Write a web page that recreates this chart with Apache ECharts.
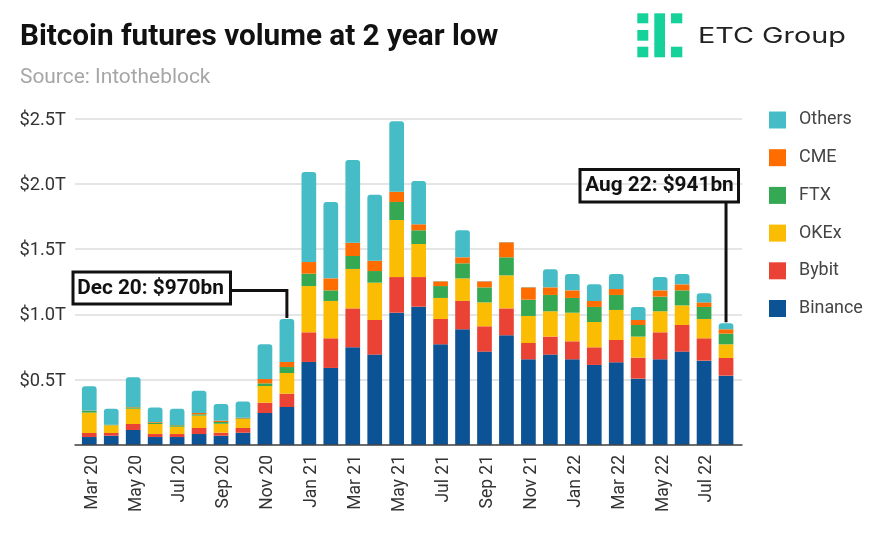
<!DOCTYPE html>
<html><head><meta charset="utf-8">
<style>html,body{margin:0;padding:0;background:#fff}#c{width:882px;height:540px}</style>
<script src="https://cdn.jsdelivr.net/npm/echarts@6/dist/echarts.min.js"></script>
</head><body><div id="c"></div>
<script>
const months = ['Mar 20','Apr 20','May 20','Jun 20','Jul 20','Aug 20','Sep 20','Oct 20','Nov 20','Dec 20','Jan 21','Feb 21','Mar 21','Apr 21','May 21','Jun 21','Jul 21','Aug 21','Sep 21','Oct 21','Nov 21','Dec 21','Jan 22','Feb 22','Mar 22','Apr 22','May 22','Jun 22','Jul 22','Aug 22'];
const binance = [.061,.071,.115,.061,.061,.084,.071,.094,.245,.291,.636,.590,.748,.692,1.013,1.059,.771,.886,.715,.840,.656,.692,.656,.613,.633,.508,.656,.715,.646,.531];
const bybit   = [.031,.021,.046,.023,.023,.046,.023,.036,.079,.102,.227,.227,.298,.265,.273,.227,.194,.217,.194,.206,.125,.138,.138,.135,.171,.161,.207,.204,.171,.135];
const okex    = [.156,.059,.117,.077,.056,.095,.069,.069,.128,.158,.354,.286,.302,.286,.437,.253,.161,.173,.183,.253,.207,.194,.219,.194,.230,.161,.161,.150,.148,.105];
const ftx     = [.015,.002,.010,.010,.011,.010,.013,.005,.020,.046,.095,.081,.099,.089,.138,.105,.091,.115,.115,.138,.125,.125,.113,.115,.115,.089,.112,.115,.092,.082];
const cme     = [.002,.003,.003,.005,.002,.010,.010,.005,.033,.039,.089,.092,.102,.079,.079,.046,.036,.046,.046,.115,.094,.058,.058,.046,.045,.038,.048,.046,.035,.033];
const others  = [.184,.122,.227,.112,.125,.171,.128,.125,.266,.329,.689,.585,.633,.506,.538,.331,.003,.207,.003,.002,.003,.138,.125,.127,.115,.100,.102,.079,.069,.046];
const yTicks = [0,.5,1,1.5,2,2.5];
const colors = {Binance:'#0b5394',Bybit:'#ea4335',OKEx:'#fbbc04',FTX:'#34a853',CME:'#ff6d01',Others:'#46bdc6'};
const seriesData = {Binance:binance,Bybit:bybit,OKEx:okex,FTX:ftx,CME:cme,Others:others};
const noteDec = 'Dec 20: $970bn', noteAug = 'Aug 22: $941bn';
const F='Roboto';
const chart = echarts.init(document.getElementById('c'),null,{renderer:'canvas'});
const yBase={type:'value',min:0,max:2.5,interval:.5};
chart.setOption({
  backgroundColor:'#fff',animation:false,
  title:[
    {text:'Bitcoin futures volume at 2 year low',left:15,top:18,textStyle:{fontFamily:F,fontWeight:700,fontSize:29.7,color:'#111'}},
    {text:'Source: Intotheblock',left:15,top:62,textStyle:{fontFamily:F,fontWeight:400,fontSize:20.9,color:'#a6a6a6'}}
  ],
  legend:{orient:'vertical',left:764,top:106,itemWidth:17,itemHeight:17,itemGap:19.7,icon:'rect',
    data:['Others','CME','FTX','OKEx','Bybit','Binance'],
    textStyle:{fontFamily:F,fontSize:17.9,color:'#444',padding:[3,0,0,8]},itemStyle:{borderWidth:0,borderRadius:2}},
  grid:[{left:75,width:667,top:118.5,height:326.5},{left:78.3,width:658.7,top:118.5,height:326.5}],
  xAxis:[
    {type:'category',gridIndex:0,data:[''],axisLine:{show:true,lineStyle:{color:'#444',width:1.5}},axisTick:{show:false},axisLabel:{show:false},z:5},
    {type:'category',gridIndex:1,data:months,axisLine:{show:false},axisTick:{show:false},
     axisLabel:{interval:1,rotate:90,fontFamily:F,fontSize:17.5,color:'#333',margin:10,verticalAlign:'top',lineHeight:6}}
  ],
  yAxis:[
    {...yBase,gridIndex:0,axisLine:{show:false},axisTick:{show:false},
     splitLine:{lineStyle:{color:'#dcdcdc',width:1.5}},
     axisLabel:{fontFamily:F,fontSize:18.3,color:'#333',margin:9,verticalAlign:'top',lineHeight:3,
       formatter:v=>yTicks.includes(v)&&v>0?'$'+v.toFixed(1)+'T':''}},
    {...yBase,gridIndex:1,show:false}
  ],
  series:Object.keys(seriesData).map(n=>({
    name:n,type:'bar',stack:'v',xAxisIndex:1,yAxisIndex:1,data:seriesData[n],barWidth:14.7,
    itemStyle:{color:colors[n],borderRadius:n==='Others'?[3,3,0,0]:0},z:3
  }))
});
const px=(i,total)=>chart.convertToPixel({xAxisIndex:1,yAxisIndex:1},[i,total]);
const total=i=>binance[i]+bybit[i]+okex[i]+ftx[i]+cme[i]+others[i];
const pD=px(9,total(9)), pA=px(29,total(29));
const ls={stroke:'#111',lineWidth:3,fill:null};
const logo='#14d29a';
const box=(x,y,w,h)=>({type:'rect',shape:{x,y,width:w,height:h},style:{fill:'transparent',stroke:'#111',lineWidth:3},z:10});
const txt=(x,y,t)=>({type:'text',x,y,style:{text:t,fontFamily:F,fontWeight:700,fontSize:20.8,fill:'#111',textAlign:'center',textVerticalAlign:'middle'},z:11});
const r=(x,y,w,h)=>({type:'rect',shape:{x,y,width:w,height:h},style:{fill:logo}});
chart.setOption({graphic:[
  box(73,272,157.5,32), txt(150.5,288.5,noteDec),
  {type:'polyline',shape:{points:[[230.5,290.5],[pD[0],290.5],[pD[0],pD[1]-1]]},style:ls,z:10},
  box(580,169.5,158.5,32.5), txt(659.5,186,noteAug),
  {type:'polyline',shape:{points:[[pA[0],202],[pA[0],pA[1]-1]]},style:ls,z:10},
  r(637.3,13.3,11,10), r(637.3,30,11,10.7), r(637.3,46.7,11,10.6),
  r(654.3,13.3,10.7,44),
  r(671,13.3,11.3,10), r(671,46.7,11.3,10.6),
  {type:'text',x:698,y:37,scaleX:1.37,style:{text:'ETC Group',fontFamily:'Inter',fontSize:21,fontWeight:400,fill:'#222',textVerticalAlign:'middle'}}
]});
</script></body></html>
